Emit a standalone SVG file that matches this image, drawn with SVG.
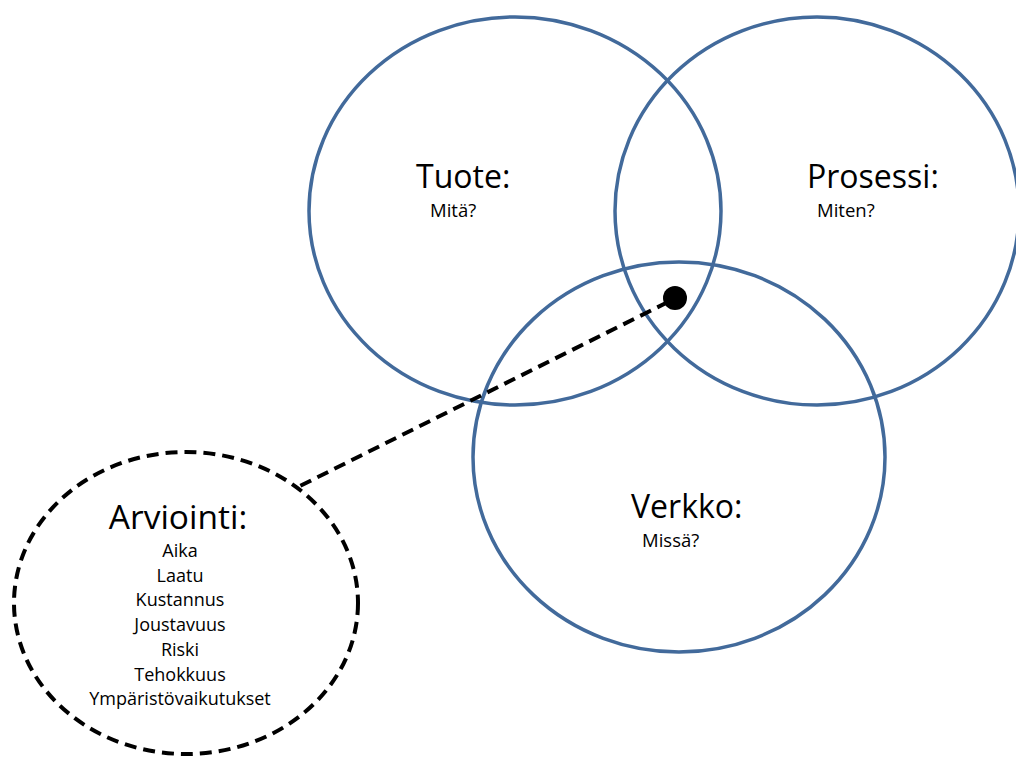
<svg xmlns="http://www.w3.org/2000/svg" width="1016" height="758" viewBox="0 0 1016 758">
<style>
.c{fill:none;stroke:#426a9b;stroke-width:3.5}
.t{font-family:"Open Sans","Noto Sans",sans-serif;fill:#000}
.big{font-size:32px}
.sm{font-size:18.5px}
.li{font-size:18px;text-anchor:middle}
.d{fill:none;stroke:#000;stroke-width:4;stroke-dasharray:12 7}
</style>
<rect width="1016" height="758" fill="#fff"/>
<g id="tuote">
<ellipse class="c" cx="515" cy="211" rx="206" ry="194"/>
<text class="t big" x="416" y="188">Tuote:</text>
<text class="t sm" x="430" y="217">Mitä?</text>
</g>
<g id="prosessi">
<ellipse class="c" cx="817" cy="211" rx="202" ry="194"/>
<text class="t big" x="807" y="188">Prosessi:</text>
<text class="t sm" x="817" y="217">Miten?</text>
</g>
<g id="verkko">
<ellipse class="c" cx="679" cy="457" rx="206" ry="195"/>
<text class="t big" x="631" y="518">Verkko:</text>
<text class="t sm" x="642" y="547">Missä?</text>
</g>
<g id="connectors">
<line class="d" x1="668" y1="302" x2="296" y2="488"/>
<circle cx="675" cy="298" r="12" fill="#000"/>
</g>
<g id="arviointi">
<ellipse class="d" cx="186" cy="603" rx="172" ry="151"/>
<text class="t" font-size="33.5" x="178" y="529" text-anchor="middle">Arviointi:</text>
<text class="t li" x="180" y="557">Aika</text>
<text class="t li" x="180" y="582">Laatu</text>
<text class="t li" x="180" y="606">Kustannus</text>
<text class="t li" x="180" y="631">Joustavuus</text>
<text class="t li" x="180" y="656">Riski</text>
<text class="t li" x="180" y="681">Tehokkuus</text>
<text class="t li" x="180" y="705">Ympäristövaikutukset</text>
</g>
</svg>
